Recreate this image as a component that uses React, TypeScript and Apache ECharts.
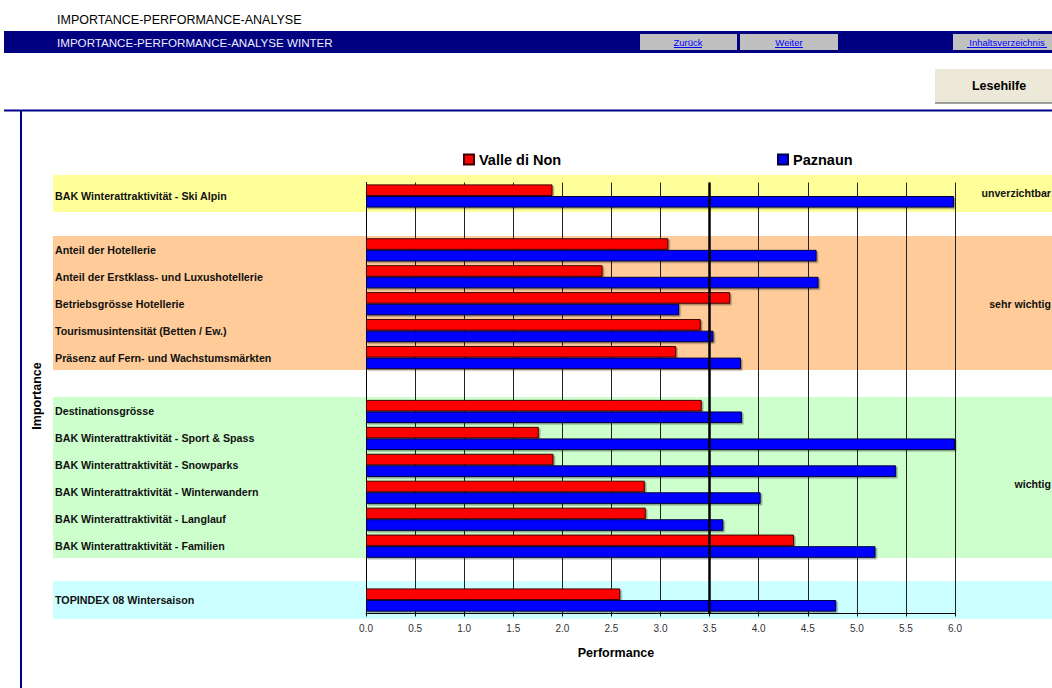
import React, { useEffect, useRef } from "react";
import * as echarts from "echarts";

const categories = [
  "BAK Winterattraktivität - Ski Alpin",
  " ",
  "Anteil der Hotellerie",
  "Anteil der Erstklass- und Luxushotellerie",
  "Betriebsgrösse Hotellerie",
  "Tourismusintensität (Betten / Ew.)",
  "Präsenz auf Fern- und Wachstumsmärkten",
  "  ",
  "Destinationsgrösse",
  "BAK Winterattraktivität - Sport & Spass",
  "BAK Winterattraktivität - Snowparks",
  "BAK Winterattraktivität - Winterwandern",
  "BAK Winterattraktivität - Langlauf",
  "BAK Winterattraktivität - Familien",
  "   ",
  "TOPINDEX 08 Wintersaison",
];

const valleDiNon = [1.9, null, 3.08, 2.41, 3.71, 3.41, 3.16, null, 3.42, 1.76, 1.91, 2.84, 2.85, 4.36, null, 2.59];
const paznaun = [5.99, null, 4.59, 4.61, 3.19, 3.54, 3.82, null, 3.83, 6.0, 5.4, 4.02, 3.64, 5.19, null, 4.79];

const seriesNames = ["Valle di Non", "Paznaun"];
const importanceLabels = ["unverzichtbar", "sehr wichtig", "wichtig"];
const xMin = 0;
const xMax = 6;
const xInterval = 0.5;
const threshold = 3.5;

const FONT = "'Liberation Sans', Arial, Helvetica, sans-serif";

export default function App() {
  const ref = useRef<HTMLDivElement>(null);

  useEffect(() => {
    if (!ref.current) return;
    const chart = echarts.init(ref.current, undefined, { renderer: "svg" });

    const navy = "#000080";
    const bands = [
      { y: 175, h: 37, color: "#FFFF99" },
      { y: 236, h: 134, color: "#FFCC99" },
      { y: 397, h: 161, color: "#CCFFCC" },
      { y: 581, h: 38, color: "#CCFFFF" },
    ];
    const rightLabelY = [193, 304, 484];

    const graphics: any[] = [
      {
        type: "text",
        left: 57,
        top: 13,
        style: { text: "IMPORTANCE-PERFORMANCE-ANALYSE", fontSize: 12.5, fontFamily: FONT, fill: "#000" },
      },
      { type: "rect", shape: { x: 4, y: 31, width: 1048, height: 22 }, style: { fill: navy } },
      {
        type: "text",
        left: 57,
        top: 36,
        style: { text: "IMPORTANCE-PERFORMANCE-ANALYSE WINTER", fontSize: 11.6, fontFamily: FONT, fill: "#EEEEFF" },
      },
      { type: "rect", shape: { x: 640, y: 34, width: 97, height: 16 }, style: { fill: "#C0C0C0" } },
      { type: "rect", shape: { x: 740, y: 34, width: 98, height: 16 }, style: { fill: "#C0C0C0" } },
      { type: "rect", shape: { x: 953, y: 34, width: 99, height: 16 }, style: { fill: "#C0C0C0" } },
      {
        type: "text",
        x: 688,
        y: 42,
        style: { text: "Zurück", fontSize: 9.5, fontFamily: FONT, fill: "#0000FF", align: "center", verticalAlign: "middle" },
      },
      { type: "line", shape: { x1: 674, y1: 47.5, x2: 702, y2: 47.5 }, style: { stroke: "#0000FF", lineWidth: 1 } },
      {
        type: "text",
        x: 789,
        y: 42,
        style: { text: "Weiter", fontSize: 9.5, fontFamily: FONT, fill: "#0000FF", align: "center", verticalAlign: "middle" },
      },
      { type: "line", shape: { x1: 775, y1: 47.5, x2: 803, y2: 47.5 }, style: { stroke: "#0000FF", lineWidth: 1 } },
      {
        type: "text",
        x: 1007,
        y: 42,
        style: { text: "Inhaltsverzeichnis", fontSize: 9.5, fontFamily: FONT, fill: "#0000FF", align: "center", verticalAlign: "middle" },
      },
      { type: "line", shape: { x1: 967, y1: 47.5, x2: 1047, y2: 47.5 }, style: { stroke: "#0000FF", lineWidth: 1 } },
      { type: "rect", shape: { x: 935, y: 69, width: 117, height: 34 }, style: { fill: "#ECE9D8" } },
      { type: "line", shape: { x1: 935, y1: 103, x2: 1052, y2: 103 }, style: { stroke: "#808080", lineWidth: 1.5 } },
      {
        type: "text",
        x: 999,
        y: 86,
        style: { text: "Lesehilfe", fontSize: 12.5, fontWeight: "bold", fontFamily: FONT, fill: "#000", align: "center", verticalAlign: "middle" },
      },
      { type: "rect", shape: { x: 4, y: 109.5, width: 1048, height: 2 }, style: { fill: "#00008B" } },
      { type: "rect", shape: { x: 20, y: 110, width: 2, height: 578 }, style: { fill: "#00008B" } },
      {
        type: "text",
        x: 37,
        y: 396,
        rotation: Math.PI / 2,
        style: { text: "Importance", fontSize: 12.5, fontWeight: "bold", fontFamily: FONT, fill: "#000", align: "center", verticalAlign: "middle" },
      },
      {
        type: "text",
        x: 616,
        y: 653,
        style: { text: "Performance", fontSize: 12.5, fontWeight: "bold", fontFamily: FONT, fill: "#000", align: "center", verticalAlign: "middle" },
      },
    ];

    bands.forEach((b) => {
      graphics.push({
        type: "rect",
        z: -10,
        shape: { x: 53, y: b.y, width: 999, height: b.h },
        style: { fill: b.color },
      });
    });
    importanceLabels.forEach((t, i) => {
      graphics.push({
        type: "text",
        x: 1051,
        y: rightLabelY[i],
        style: { text: t, fontSize: 10.6, fontWeight: "bold", fontFamily: FONT, fill: "#111", align: "right", verticalAlign: "middle" },
      });
    });

    const barStyle = (fill: string, border: string) => ({
      color: fill,
      borderColor: border,
      borderWidth: 1,
      shadowColor: "rgba(0,0,0,0.35)",
      shadowOffsetX: 1.5,
      shadowOffsetY: 1.5,
      shadowBlur: 0,
    });

    chart.setOption({
      animation: false,
      textStyle: { fontFamily: FONT },
      grid: { left: 366, right: 97, top: 182.5, bottom: 74.5, containLabel: false },
      legend: [
        {
          data: [seriesNames[0]],
          left: 463,
          top: 152,
          padding: 0,
          itemWidth: 10,
          itemHeight: 10,
          icon: "rect",
          textStyle: { fontSize: 14.5, fontWeight: "bold", color: "#000", fontFamily: FONT },
        },
        {
          data: [seriesNames[1]],
          left: 777,
          top: 152,
          padding: 0,
          itemWidth: 10,
          itemHeight: 10,
          icon: "rect",
          textStyle: { fontSize: 14.5, fontWeight: "bold", color: "#000", fontFamily: FONT },
        },
      ],
      xAxis: {
        type: "value",
        min: xMin,
        max: xMax,
        interval: xInterval,
        axisLine: { show: true, lineStyle: { color: "#000", width: 1 } },
        axisTick: { show: true, length: 3, lineStyle: { color: "#000" } },
        axisLabel: {
          fontSize: 10,
          color: "#333",
          margin: 10,
          formatter: (v: number) => v.toFixed(1),
        },
        splitLine: { show: true, lineStyle: { color: "#222", width: 1 } },
      },
      yAxis: {
        type: "category",
        data: categories,
        inverse: true,
        axisLine: { show: true, lineStyle: { color: "#000", width: 1 } },
        axisTick: { show: false },
        axisLabel: {
          align: "left",
          margin: 311,
          fontSize: 10.7,
          fontWeight: "bold",
          color: "#111",
          interval: 0,
        },
        splitLine: { show: false },
      },
      series: [
        {
          name: seriesNames[0],
          type: "bar",
          data: valleDiNon,
          barGap: "0%",
          barCategoryGap: "14%",
          itemStyle: barStyle("#FF0000", "#400000"),
          markLine: {
            silent: true,
            symbol: "none",
            label: { show: false },
            lineStyle: { color: "#000", width: 2.5, type: "solid" },
            data: [{ xAxis: threshold }],
          },
        },
        {
          name: seriesNames[1],
          type: "bar",
          data: paznaun,
          barGap: "0%",
          barCategoryGap: "14%",
          itemStyle: barStyle("#0000FF", "#000040"),
        },
      ],
      graphic: graphics,
    });

    return () => chart.dispose();
  }, []);

  return (
    <div
      ref={ref}
      style={{ position: "fixed", left: 0, top: 0, width: 1052, height: 688, background: "#fff" }}
    />
  );
}
